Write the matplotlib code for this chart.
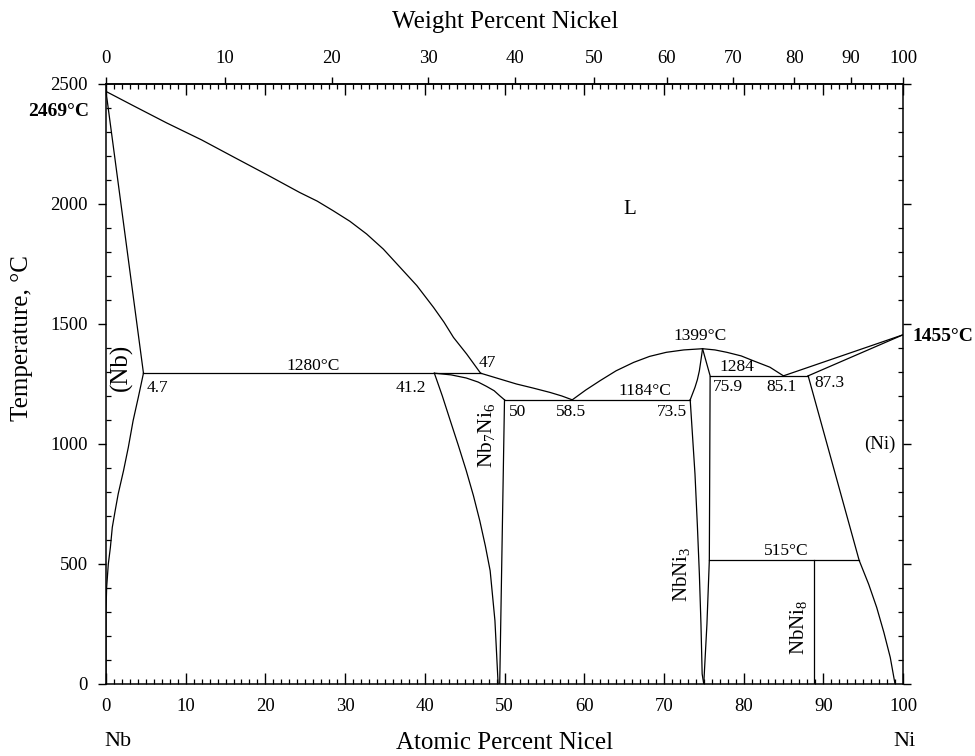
import matplotlib
matplotlib.use("Agg")
import matplotlib.pyplot as plt
from matplotlib.ticker import MultipleLocator, FixedLocator
import numpy as np

plt.rcParams['font.family'] = ['Liberation Serif', 'DejaVu Serif']
plt.rcParams['mathtext.fontset'] = 'custom'
plt.rcParams['mathtext.rm'] = 'Liberation Serif'
plt.rcParams['mathtext.it'] = 'Liberation Serif:italic'

# ---- data: phase boundaries (atomic % Ni, temperature degC) ----
liq_nb_x = [0, 3.4, 7.6, 12.0, 16.0, 20.2, 24.3, 26.5, 28.5, 30.6, 32.7, 34.8, 36.9, 39.0, 41.1, 42.4, 43.6, 45.25, 47.0]
liq_nb_t = [2469, 2410, 2338, 2267, 2196, 2122, 2048, 2012, 1972, 1928, 1875, 1812, 1736, 1660, 1569, 1508, 1444, 1375, 1295]

sol_nb_x = [0, 4.7]
sol_nb_t = [2469, 1295]

solv_nb_x = [4.7, 4.05, 3.4, 2.8, 2.2, 1.53, 1.15, 0.79, 0.55, 0.29, 0.08, 0.0, 0.0]
solv_nb_t = [1295, 1194, 1097, 986, 889, 792, 722, 653, 569, 500, 402, 305, 0]

eut1_x = [4.7, 47.0]
eut1_t = [1295, 1295]

mu_left_x = [41.2, 42.2, 43.2, 44.2, 45.2, 46.1, 46.9, 47.6, 48.2, 48.8, 49.2]
mu_left_t = [1295, 1200, 1097, 995, 889, 785, 680, 575, 472, 264, 0]

mu_arc_x = [41.2, 43.3, 45.2, 46.7, 47.75, 48.7, 49.4, 50.0]
mu_arc_t = [1295, 1288, 1275, 1258, 1240, 1222, 1201, 1184]

mu_right_x = [50.0, 49.4]
mu_right_t = [1184, 0]

liq_mid1_x = [47.0, 49.3, 51.5, 53.6, 55.7, 57.2, 58.5]
liq_mid1_t = [1295, 1272, 1250, 1233, 1215, 1200, 1184]

liq_mid2_x = [58.5, 60.2, 62.0, 64.0, 66.2, 68.2, 70.3, 72.5, 74.85]
liq_mid2_t = [1184, 1225, 1264, 1305, 1340, 1365, 1382, 1392, 1397]

liq_mid3_x = [74.85, 76.4, 77.9, 79.7, 81.2, 83.3, 85.0]
liq_mid3_t = [1397, 1392, 1382, 1367, 1347, 1320, 1284]

eut2_x = [50.0, 73.3]
eut2_t = [1184, 1184]

ni3_left_up_x = [73.3, 73.9, 74.2, 74.45, 74.65, 74.85]
ni3_left_up_t = [1184, 1236, 1268, 1305, 1350, 1397]

ni3_left_low_x = [73.3, 73.9, 74.2, 74.45, 74.65, 74.8, 75.0]
ni3_left_low_t = [1184, 875, 660, 458, 250, 42, 0]

ni3_right_x = [74.85, 75.8, 75.7, 75.4, 75.0]
ni3_right_t = [1397, 1284, 515, 250, 0]

eut3_x = [75.8, 88.1]
eut3_t = [1284, 1284]

liq_ni_x = [85.0, 100]
liq_ni_t = [1284, 1455]

sol_ni_x = [88.1, 100]
sol_ni_t = [1284, 1455]

solv_ni_x = [88.1, 94.5, 95.7, 96.7, 97.6, 98.4, 99.0]
solv_ni_t = [1284, 515, 415, 319, 215, 111, 0]

eutd_x = [75.7, 94.5]
eutd_t = [515, 515]

ni8_x = [88.8, 88.8]
ni8_t = [515, 0]

# ---- labels ----
small_labels = ["1280°C", "4.7", "41.2", "47", "50", "58.5", "1184°C", "73.5",
                "1399°C", "1284", "75.9", "85.1", "87.3", "515°C"]
small_x = [26.0, 6.5, 38.3, 47.8, 51.7, 58.4, 67.6, 71.0, 74.5, 79.1, 78.0, 84.8, 90.8, 85.4]
small_t = [1325, 1233, 1233, 1336, 1132, 1132, 1222, 1132, 1451, 1319, 1236, 1236, 1254, 555]

phase_labels = ["L", "(Ni)"]
phase_x = [65.7, 97.1]
phase_t = [1979, 997]

rot_labels = ["(Nb)", r"Nb$_7$Ni$_6$", r"NbNi$_3$", r"NbNi$_8$"]
rot_x = [1.95, 47.8, 72.2, 86.9]
rot_t = [1320, 1034, 458, 235]
rot_size = [18, 15.5, 15, 15]

x_ticks = list(range(0, 101, 10))
y_ticks = [0, 500, 1000, 1500, 2000, 2500]
wt_ticks = list(range(0, 101, 10))

M_NB = 92.906
M_NI = 58.693


def at2wt(x):
    x = np.asarray(x, dtype=float)
    return 100.0 * x * M_NI / (x * M_NI + (100.0 - x) * M_NB)


def wt2at(w):
    w = np.asarray(w, dtype=float)
    a = w / M_NI
    b = (100.0 - w) / M_NB
    return 100.0 * a / (a + b)


fig = plt.figure(figsize=(9.75, 7.56), dpi=100)
ax = fig.add_axes([106 / 975, 1 - 684 / 756, 797 / 975, 600 / 756])
ax.set_xlim(0, 100)
ax.set_ylim(0, 2500)

lw = 0.9
curves = [
    (liq_nb_x, liq_nb_t), (sol_nb_x, sol_nb_t), (solv_nb_x, solv_nb_t),
    (eut1_x, eut1_t), (mu_left_x, mu_left_t), (mu_arc_x, mu_arc_t),
    (mu_right_x, mu_right_t), (liq_mid1_x, liq_mid1_t), (liq_mid2_x, liq_mid2_t),
    (liq_mid3_x, liq_mid3_t), (eut2_x, eut2_t), (ni3_left_up_x, ni3_left_up_t),
    (ni3_left_low_x, ni3_left_low_t), (ni3_right_x, ni3_right_t),
    (eut3_x, eut3_t), (liq_ni_x, liq_ni_t), (sol_ni_x, sol_ni_t),
    (solv_ni_x, solv_ni_t), (eutd_x, eutd_t), (ni8_x, ni8_t),
]
for cx, ct in curves:
    ax.plot(cx, ct, color='black', lw=lw, solid_joinstyle='round')

for s, x, t in zip(small_labels, small_x, small_t):
    ax.text(x, t, s, fontsize=12.5, ha='center', va='center')

ax.text(phase_x[0], phase_t[0], phase_labels[0], fontsize=15, ha='center', va='center')
ax.text(phase_x[1], phase_t[1], phase_labels[1], fontsize=13.5, ha='center', va='center')

for s, x, t, fs in zip(rot_labels, rot_x, rot_t, rot_size):
    ax.text(x, t, s, fontsize=fs, ha='center', va='center', rotation=90)

ax.text(-6.0, 2387, "2469°C", fontsize=14, fontweight='bold', ha='center', va='center')
ax.text(105.0, 1447, "1455°C", fontsize=14, fontweight='bold', ha='center', va='center')

# axes styling
for sp in ax.spines.values():
    sp.set_linewidth(1.1)

ax.xaxis.set_major_locator(FixedLocator(x_ticks))
ax.xaxis.set_minor_locator(MultipleLocator(1))
ax.yaxis.set_major_locator(FixedLocator(y_ticks))
ax.yaxis.set_minor_locator(MultipleLocator(100))

ax.tick_params(axis='x', which='major', direction='in', length=8, width=1.0,
               top=True, bottom=True, labeltop=False, labelsize=13.5, pad=10)
ax.tick_params(axis='x', which='minor', direction='in', length=3.5, width=0.9,
               top=True, bottom=True)
ax.tick_params(axis='y', which='major', direction='out', length=6, width=1.0,
               left=True, right=True, labelsize=13.5, pad=7)
ax.tick_params(axis='y', which='minor', direction='in', length=3.5, width=0.9,
               left=True, right=True)

sec = ax.secondary_xaxis('top', functions=(at2wt, wt2at))
sec.xaxis.set_major_locator(FixedLocator(wt_ticks))
sec.tick_params(axis='x', which='major', direction='out', length=5, width=1.0,
                labelsize=13.5, pad=7)
sec.tick_params(axis='x', which='minor', length=0)
sec.spines['top'].set_linewidth(1.1)

fig.text(505 / 975, 1 - 743 / 756, "Atomic Percent Nicel", fontsize=18, ha='center', va='center')
fig.text(505 / 975, 1 - 22 / 756, "Weight Percent Nickel", fontsize=18, ha='center', va='center')
fig.text(22 / 975, 1 - 338 / 756, "Temperature, °C", fontsize=18, ha='center', va='center', rotation=90)
fig.text(118 / 975, 1 - 742 / 756, "Nb", fontsize=16, ha='center', va='center')
fig.text(905 / 975, 1 - 742 / 756, "Ni", fontsize=16, ha='center', va='center')

fig.savefig("out.png", dpi=100)
